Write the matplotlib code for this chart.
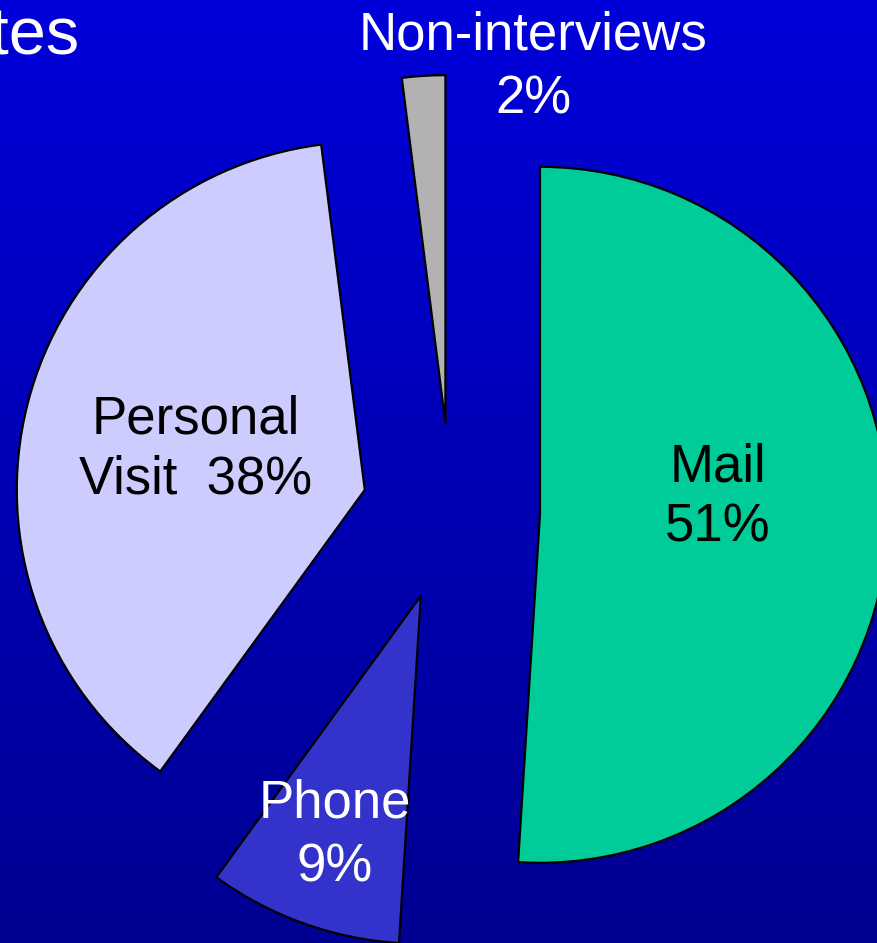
import numpy as np
import matplotlib
matplotlib.use("Agg")
import matplotlib.pyplot as plt
from matplotlib.colors import LinearSegmentedColormap

plt.rcParams['font.family'] = ['Liberation Sans', 'DejaVu Sans']

# Data
categories = ["Mail", "Phone", "Personal Visit", "Non-interviews"]
shares = [51, 9, 38, 2]
label_lines = [["Mail", "51%"], ["Phone", "9%"], ["Personal", "Visit  38%"], ["Non-interviews", "2%"]]
slice_colors = ["#00CC99", "#3333CC", "#CCCCFF", "#B2B2B2"]
label_colors = ["black", "white", "black", "white"]
title_text = "Rates"

W, H = 878, 943
fig = plt.figure(figsize=(W / 100, H / 100), dpi=100)
ax = fig.add_axes([0, 0, 1, 1])

# Background gradient
grad = np.linspace(0, 1, 256).reshape(-1, 1)
cmap = LinearSegmentedColormap.from_list("bg", ["#0000DA", "#000092"])
ax.imshow(grad, extent=[0, W, 0, H], cmap=cmap, aspect='auto', zorder=0, origin='upper')

# Pie (explode is in data units for matplotlib pie)
radius = 348
center = (451, H - 512)
explode = [89] * len(shares)
wedges, _ = ax.pie(shares, colors=slice_colors, startangle=90, counterclock=False,
                   radius=radius, center=center, explode=explode, frame=True,
                   wedgeprops=dict(edgecolor='black', linewidth=1.6))
for w in wedges:
    w.set_zorder(2)
ax.set_xlim(0, W)
ax.set_ylim(0, H)
ax.set_aspect('equal')
ax.axis('off')

# Labels (x center, first baseline in pixels from top)
label_pos = [(718, 482), (335, 818), (196, 433), (533, 50)]
line_gap = [60, 64, 60, 63]
for lines, (x, y), gap, c in zip(label_lines, label_pos, line_gap, label_colors):
    for i, t in enumerate(lines):
        ax.text(x, H - (y + i * gap), t, ha='center', va='baseline', fontsize=38,
                color=c, zorder=3)

# Title (partially cropped)
ax.text(80, H - 53, title_text, ha='right', va='baseline', fontsize=48, color='white', zorder=3)

fig.savefig("out.png", dpi=100)
